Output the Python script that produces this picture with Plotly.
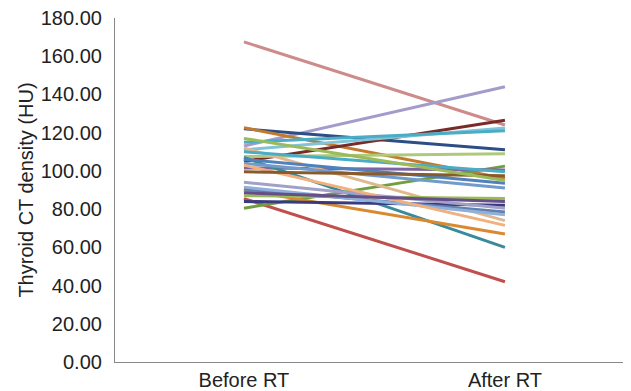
import plotly.graph_objects as go

categories = ["Before RT", "After RT"]

before_rt = [167.5, 85.5, 113.0, 122.0, 122.6, 105.0, 111.0, 107.5, 80.5, 101.5,
             112.0, 107.0, 90.0, 106.0, 104.0, 87.0, 84.0, 94.0, 90.5, 91.5,
             103.0, 99.5, 115.0, 88.5, 110.0, 117.0]
after_rt = [124.0, 42.0, 144.0, 111.0, 96.0, 126.5, 122.5, 109.0, 102.5, 100.5,
            74.0, 60.0, 67.0, 93.5, 91.0, 85.5, 82.0, 80.5, 78.5, 77.0,
            71.5, 97.5, 121.0, 84.0, 99.5, 95.0]
line_colors = ["#CD8C8A", "#C0504D", "#A39CCB", "#2C4D85", "#C47A2C", "#772C2A",
               "#7FC4D8", "#AFC97A", "#6FA040", "#8064A2", "#E0B890", "#3A8A9A",
               "#D98A30", "#4F81BD", "#729ACA", "#9BBB59", "#3A3A80", "#A0A0C8",
               "#6080B0", "#8FB0DA", "#F0B080", "#8B5A2B", "#4BACC6", "#664F88",
               "#4BACC6", "#9BBB59"]

fig = go.Figure()
for b, a, c in zip(before_rt, after_rt, line_colors):
    fig.add_trace(go.Scatter(x=categories, y=[b, a], mode="lines",
                             line=dict(color=c, width=3), showlegend=False,
                             hoverinfo="skip"))

# page body has an 8px default margin, so the figure is 8px smaller each way
fig.update_layout(
    width=623, height=383,
    margin=dict(l=107, r=6, t=10, b=29),
    paper_bgcolor="white", plot_bgcolor="white",
    font=dict(family="Liberation Sans, Arial, sans-serif", size=20, color="#222"),
)
fig.update_xaxes(type="category", range=[-0.494, 1.46], showgrid=False,
                 showline=True, linecolor="#888", linewidth=1.2, ticks="",
                 zeroline=False, tickfont=dict(size=20), ticklabelstandoff=0,
                 automargin=False)
fig.update_yaxes(range=[0, 180], dtick=20, tickformat=".2f", showgrid=False,
                 showline=True, linecolor="#888", linewidth=1.2, ticks="",
                 zeroline=False, ticklabelstandoff=8, tickfont=dict(size=20),
                 automargin=False, ticklabeloverflow="allow",
                 title=dict(text="Thyroid CT density (HU)", font=dict(size=20),
                            standoff=1))

fig.write_html("out.html")
